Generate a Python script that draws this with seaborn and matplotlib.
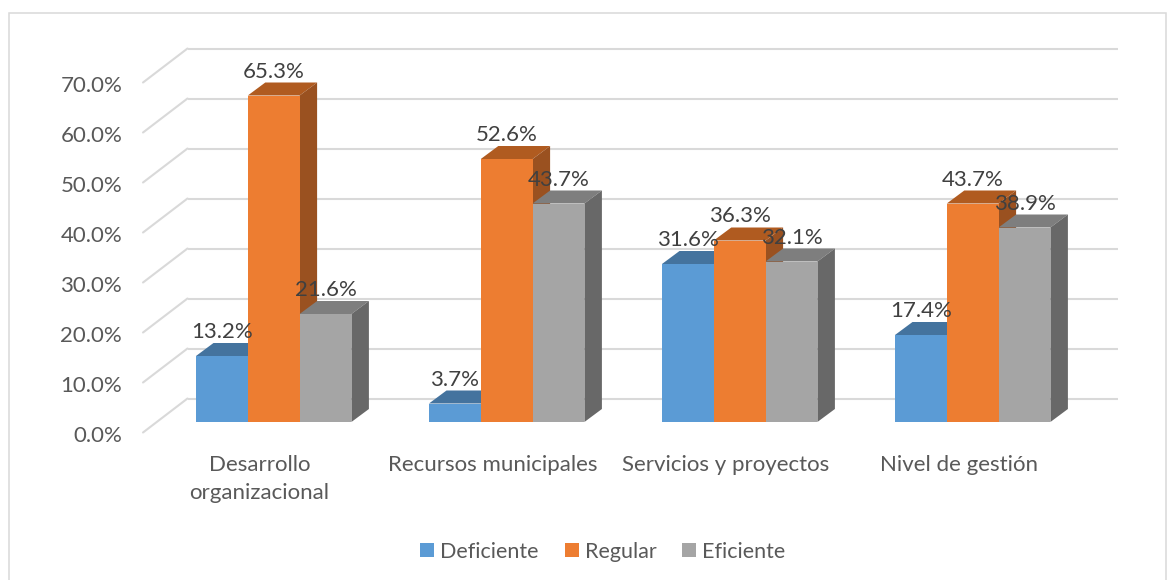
import matplotlib
matplotlib.use("Agg")
import matplotlib.pyplot as plt
from matplotlib.lines import Line2D
from matplotlib.patches import Polygon, Rectangle
from matplotlib.transforms import Affine2D, IdentityTransform
import pandas as pd
import seaborn as sns

categories = ["Desarrollo\norganizacional", "Recursos municipales", "Servicios y proyectos", "Nivel de gestión"]
series_names = ["Deficiente", "Regular", "Eficiente"]
deficiente = [13.2, 3.7, 31.6, 17.4]
regular = [65.3, 52.6, 36.3, 43.7]
eficiente = [21.6, 43.7, 32.1, 38.9]
y_ticks = [0, 10, 20, 30, 40, 50, 60, 70]

front_colors = ["#5B9BD5", "#ED7D31", "#A5A5A5"]
top_colors = ["#44739E", "#B05B20", "#7E7E7E"]
side_colors = ["#38608A", "#9A5120", "#686868"]
GRID = "#D9D9D9"
W, H = 1174, 580
DX, DY = 17.5, 13

sns.set_theme(style="white")
plt.rcParams["font.family"] = ["Lato", "DejaVu Sans"]
FS = 16

fig = plt.figure(figsize=(W / 100, H / 100), dpi=100, facecolor="white")


def rect(x0, x1, ytop, ybot):
    return [x0 / W, 1 - ybot / H, (x1 - x0) / W, (ybot - ytop) / H]


# chart border (open at the bottom, running past the picture edge)
fig.add_artist(Rectangle((8.7 / W, -0.02), (1166 - 8.7) / W, 1.02 - 13 / H, transform=fig.transFigure,
                         fill=False, edgecolor=GRID, linewidth=1.1))

# back wall: horizontal gridlines
wall = fig.add_axes(rect(187.5, 1118, 48.5, 398.5), zorder=1)
wall.set_ylim(0, 70)
wall.set_xlim(0, 1)
wall.set_axis_off()
for v in y_ticks:
    wall.plot([0, 1], [v, v], color=GRID, lw=1.5, clip_on=False, solid_capstyle="butt")

# front plane: tick labels and category labels
front = fig.add_axes(rect(143, 1075, 82.5, 432.5), zorder=2)
front.set_facecolor("none")
front.set_ylim(0, 70)
front.set_xlim(-0.5, 3.5)
front.set_yticks(y_ticks)
front.set_yticklabels([f"{v:.1f}%" for v in y_ticks], fontsize=FS, color="#595959")
front.set_xticks(range(len(categories)))
front.set_xticklabels(categories, fontsize=FS, color="#595959", linespacing=1.52)
front.tick_params(axis="y", length=0, pad=15)
front.tick_params(axis="x", length=0, pad=16)
sns.despine(ax=front, left=True, bottom=True)
for lbl in front.get_yticklabels():
    lbl.set_transform(lbl.get_transform() + Affine2D().translate(0, -1.5))

fig.canvas.draw()
for v in y_ticks:
    p0 = front.transData.transform((-0.5, v))
    p1 = wall.transData.transform((0, v))
    fig.add_artist(Line2D([p0[0] / W, p1[0] / W], [p0[1] / H, p1[1] / H], transform=fig.transFigure,
                          color=GRID, lw=1.5, zorder=1.5))

# bars
data = pd.DataFrame({
    "categoria": categories * 3,
    "serie": [s for s in series_names for _ in categories],
    "valor": deficiente + regular + eficiente,
})
ax = fig.add_axes(rect(157.2, 1089.2, 72, 422), zorder=3)
sns.barplot(data=data, x="categoria", y="valor", hue="serie", order=categories, hue_order=series_names,
            palette=front_colors, saturation=1, width=0.667, gap=0, ax=ax, legend=True, edgecolor="none")
ax.set_xlim(-0.5, 3.5)
ax.set_ylim(0, 70)
ax.set_facecolor("none")

for i, container in enumerate(ax.containers):
    z = 3 + i * 3
    for bar in container:
        bar.set_zorder(z + 2)
        x, y, w, h = bar.get_x(), bar.get_y(), bar.get_width(), bar.get_height()
        (x0, y0) = ax.transData.transform((x, y))
        (x1, y1) = ax.transData.transform((x + w, y + h))
        ax.add_patch(Polygon([(x0, y1), (x0 + DX, y1 + DY), (x1 + DX, y1 + DY), (x1, y1)],
                             closed=True, facecolor=top_colors[i], edgecolor="none",
                             transform=IdentityTransform(), clip_on=False, zorder=z))
        ax.add_patch(Polygon([(x1, y0), (x1 + DX, y0 + DY), (x1 + DX, y1 + DY), (x1, y1)],
                             closed=True, facecolor=side_colors[i], edgecolor="none",
                             transform=IdentityTransform(), clip_on=False, zorder=z + 1))
        ax.annotate(f"{h:.1f}%", xy=(x + w / 2, h), xytext=(0, 24 * 0.72), textcoords="offset points",
                    ha="center", va="center", fontsize=FS, color="#404040", zorder=30, annotation_clip=False)

ax.set_xlabel("")
ax.set_ylabel("")
sns.move_legend(ax, "center", bbox_to_anchor=(603 / W, 1 - 551.5 / H), bbox_transform=fig.transFigure,
                ncol=3, frameon=False, title=None, fontsize=15.5, handlelength=0.65, handleheight=0.65,
                handletextpad=0.28, columnspacing=1.2, borderpad=0, borderaxespad=0, labelcolor="#595959")
ax.set_axis_off()

fig.savefig("out.png", dpi=100, facecolor="white")
